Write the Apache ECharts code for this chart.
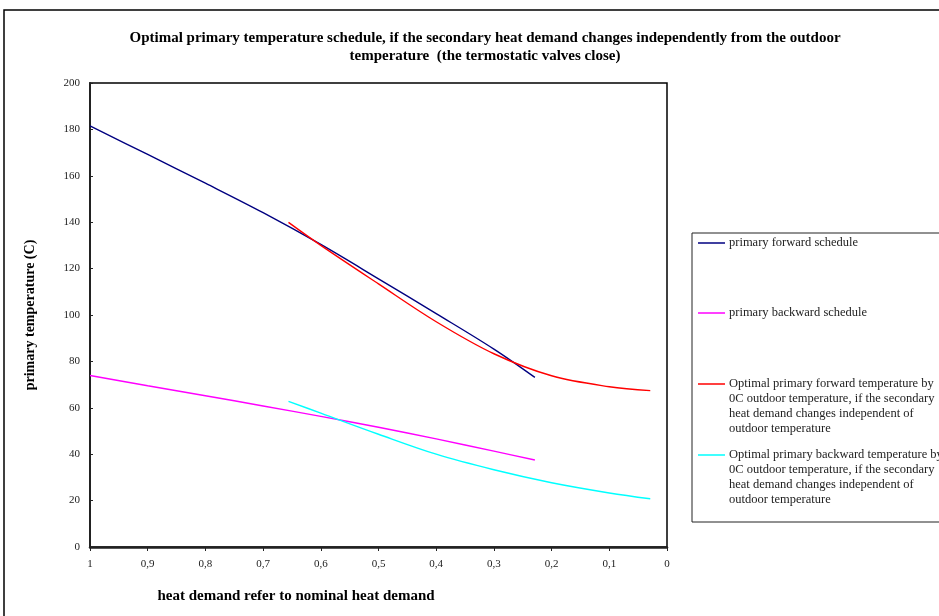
<!DOCTYPE html>
<html>
<head>
<meta charset="utf-8">
<script src="https://cdn.jsdelivr.net/npm/echarts@6/dist/echarts.min.js"></script>
<style>
  html, body { margin: 0; padding: 0; background: #fff; }
  #chart { width: 939px; height: 616px; }
</style>
</head>
<body>
<div id="chart"></div>
<script>
// heat demand (share of nominal) for the schedules
var xSchedule = [1, 0.9, 0.8, 0.7, 0.6, 0.5, 0.4, 0.3, 0.229];
var forwardSchedule = [181.5, 169.2, 156.8, 144.1, 130.4, 115.6, 100.6, 85.3, 73.1];
var backwardSchedule = [73.9, 69.5, 65.2, 60.8, 56.3, 51.6, 46.6, 41.3, 37.5];

// heat demand for the optimal temperatures at 0C outdoor
var xOptimal = [0.656, 0.6, 0.5, 0.4, 0.3, 0.2, 0.1, 0.029];
var optimalForward = [139.9, 130, 113.4, 97.1, 83.3, 73.8, 69.1, 67.4];
var optimalBackward = [62.8, 57.7, 48.6, 40.0, 33.3, 27.7, 23.3, 20.8];

var seriesNames = [
  'primary forward schedule',
  'primary backward schedule',
  'Optimal primary forward temperature by\n0C outdoor temperature, if the secondary\nheat demand changes independent of\noutdoor temperature',
  'Optimal primary backward temperature by\n0C outdoor temperature, if the secondary\nheat demand changes independent of\noutdoor temperature'
];
var seriesColors = ['#000080', '#ff00ff', '#ff0000', '#00ffff'];

function zip(xs, ys) {
  return xs.map(function (x, i) { return [x, ys[i]]; });
}

var font = '"Liberation Serif", "Times New Roman", serif';
var myChart = echarts.init(document.getElementById('chart'));

// legend drawn by hand so the key line sits on the first text line
var legendTops = [243, 313, 384, 455];
var legendGraphic = [{
  type: 'rect',
  shape: { x: 692, y: 233, width: 300, height: 289 },
  style: { fill: '#fff', stroke: '#222', lineWidth: 1 }
}];
seriesNames.forEach(function (name, i) {
  legendGraphic.push({
    type: 'line',
    shape: { x1: 698, y1: legendTops[i], x2: 725, y2: legendTops[i] },
    style: { stroke: seriesColors[i], lineWidth: 1.5 }
  });
  legendGraphic.push({
    type: 'text',
    x: 729, y: legendTops[i] - 8,
    style: { text: name, font: '12.5px ' + font, fill: '#222', lineHeight: 15 }
  });
});

var option = {
  backgroundColor: '#fff',
  animation: false,
  title: [{
    text: 'Optimal primary temperature schedule, if the secondary heat demand changes independently from the outdoor\ntemperature  (the termostatic valves close)',
    left: 480, top: 24, textAlign: 'center',
    textStyle: { fontFamily: font, fontSize: 15, fontWeight: 'bold', color: '#000', lineHeight: 18 }
  }, {
    text: 'heat demand refer to nominal heat demand',
    left: 291, top: 584, textAlign: 'center',
    textStyle: { fontFamily: font, fontSize: 15, fontWeight: 'bold', color: '#000' }
  }],
  grid: { left: 90, right: 272, top: 83, bottom: 69, show: true, borderColor: '#000', borderWidth: 1.5 },
  xAxis: {
    type: 'value', inverse: true, min: 0, max: 1, interval: 0.1,
    axisLine: { onZero: false, lineStyle: { color: '#222', width: 2.5 } },
    axisTick: { inside: false, length: 4, lineStyle: { color: '#222' } },
    splitLine: { show: false },
    axisLabel: {
      margin: 12, fontFamily: font, fontSize: 11, color: '#222',
      formatter: function (v) { return String(Math.round(v * 10) / 10).replace('.', ','); }
    }
  },
  yAxis: {
    type: 'value', min: 0, max: 200, interval: 20,
    name: 'primary temperature (C)', nameLocation: 'middle', nameGap: 53, nameRotate: 90,
    nameTextStyle: { fontFamily: font, fontSize: 14, fontWeight: 'bold', color: '#000' },
    axisLine: { onZero: false, lineStyle: { color: '#222', width: 2 } },
    axisTick: { inside: true, length: 3, lineStyle: { color: '#222' } },
    splitLine: { show: false },
    axisLabel: { margin: 10, fontFamily: font, fontSize: 11, color: '#222' }
  },
  graphic: [{
    type: 'rect',
    shape: { x: 4, y: 10, width: 1000, height: 700 },
    style: { fill: 'none', stroke: '#000', lineWidth: 1.5 },
    silent: true
  }].concat(legendGraphic),
  series: [
    { name: seriesNames[0], data: zip(xSchedule, forwardSchedule) },
    { name: seriesNames[1], data: zip(xSchedule, backwardSchedule) },
    { name: seriesNames[2], data: zip(xOptimal, optimalForward) },
    { name: seriesNames[3], data: zip(xOptimal, optimalBackward) }
  ].map(function (s, i) {
    return {
      name: s.name, type: 'line', data: s.data, smooth: 0.35,
      showSymbol: false, symbol: 'none',
      lineStyle: { color: seriesColors[i], width: 1.4 },
      itemStyle: { color: seriesColors[i] }
    };
  })
};
myChart.setOption(option);
</script>
</body>
</html>
